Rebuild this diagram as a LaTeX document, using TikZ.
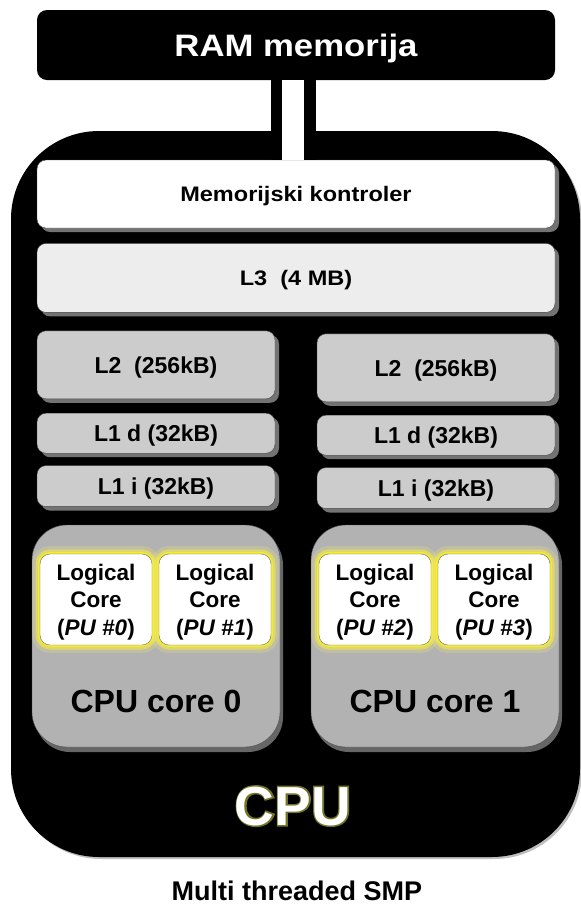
\documentclass[tikz,border=0pt]{standalone}
\usepackage{fontspec}
\setmainfont{Liberation Sans}
\newfontfamily\widesans{Liberation Sans}[FakeStretch=1.12]
\newcommand{\glowtext}[1]{\rlap{\special{pdf:literal direct 1 Tr 3 w 0.45 0.45 0.15 RG}#1\special{pdf:literal direct 0 Tr}}#1}
\usetikzlibrary{positioning, shadows}

\begin{document}
\begin{tikzpicture}[x=1pt, y=-1pt,
                cpubox/.style={fill=black, rounded corners=88pt, minimum width=569pt, minimum height=726pt, drop shadow={shadow xshift=2pt, shadow yshift=-2pt, fill=black!25, opacity=1}},
                rambox/.style={fill=black, rounded corners=10pt, minimum width=518pt, minimum height=70pt, text=white, text depth=0pt, font=\widesans\bfseries\fontsize{31}{31}\selectfont},
                bus/.style={draw=black, line width=11.5pt, double=white, double distance=22pt},
                cache/.style={draw=black!75, thin, rounded corners=9pt, fill=black!20, text depth=0pt, inner sep=0pt, font=\widesans\bfseries\fontsize{21}{21}\selectfont, drop shadow={shadow xshift=4pt, shadow yshift=-4pt, fill=black!55, opacity=1}},
                colbox/.style={cache, minimum width=238pt, font=\bfseries\fontsize{23}{23}\selectfont},
                core/.style={draw=black!70, thin, fill=black!30, rounded corners=35pt, minimum width=248pt, minimum height=222pt, drop shadow={shadow xshift=3pt, shadow yshift=-5pt, fill=black!60, opacity=1}},
                logical/.style={draw=black!60, thin, fill=white, rounded corners=10pt, minimum width=112pt, minimum height=91pt, align=center, text depth=0pt, inner sep=0pt, font=\bfseries\fontsize{22.5}{27.5}\selectfont, preaction={draw=yellow!60, line width=16pt, opacity=0.2}, preaction={draw=yellow!80, line width=9pt, opacity=0.45}, preaction={draw=yellow!90, line width=4pt, opacity=0.7}},
                corelabel/.style={font=\bfseries\fontsize{32}{32}\selectfont},
                cpulabel/.style={text=white, font=\bfseries\fontsize{55}{55}\selectfont},
                caption/.style={inner sep=0pt, font=\bfseries\fontsize{27}{27}\selectfont}
            ]
            \useasboundingbox (0,0) rectangle (581,906);

            % nodes
            \node[cpubox] (cpu) at (295.5,494) {};
            \node[rambox] (ram) at (296,45) {RAM memorija};
            \node[cache, fill=white, minimum width=518pt, minimum height=68pt, font=\widesans\bfseries\fontsize{21}{21}\selectfont] (mc) at (296,194) {Memorijski kontroler};
            \node[cache, fill=black!7, minimum width=518pt, minimum height=69pt, below=15pt of mc] (l3) {L3~~(4 MB)};

            \node[colbox, minimum height=68pt, below=18pt of l3.south west, anchor=north west] (l2a) {L2~~(256kB)};
            \node[colbox, minimum height=40pt, below=14pt of l2a] (l1da) {L1 d (32kB)};
            \node[colbox, minimum height=41pt, below=12pt of l1da] (l1ia) {L1 i (32kB)};
            \node[colbox, minimum height=68pt, below=21pt of l3.south east, anchor=north east] (l2b) {L2~~(256kB)};
            \node[colbox, minimum height=40pt, below=13pt of l2b] (l1db) {L1 d (32kB)};
            \node[colbox, minimum height=41pt, below=12pt of l1db] (l1ib) {L1 i (32kB)};

            \node[core] (core0) at (156,636) {};
            \node[core] (core1) at (435,636) {};
            \node[logical] (pu0) at (96,599.5) {Logical\\Core\\(\textit{PU \#0})};
            \node[logical] (pu1) at (215,599.5) {Logical\\Core\\(\textit{PU \#1})};
            \node[logical] (pu2) at (375,599.5) {Logical\\Core\\(\textit{PU \#2})};
            \node[logical] (pu3) at (494,599.5) {Logical\\Core\\(\textit{PU \#3})};
            \node[corelabel, anchor=base] (lab0) at (156,712) {CPU core 0};
            \node[corelabel, anchor=base] (lab1) at (435,712) {CPU core 1};

            \node[cpulabel, anchor=base] (cputxt) at (293,825) {\glowtext{CPU}};
            \node[caption, anchor=base] (smp) at (297,900) {Multi threaded SMP};

            % memory bus
            \draw[bus] ([xshift=-3pt]ram.south) -- ([xshift=-3pt]mc.north);

        \end{tikzpicture}
\end{document}
